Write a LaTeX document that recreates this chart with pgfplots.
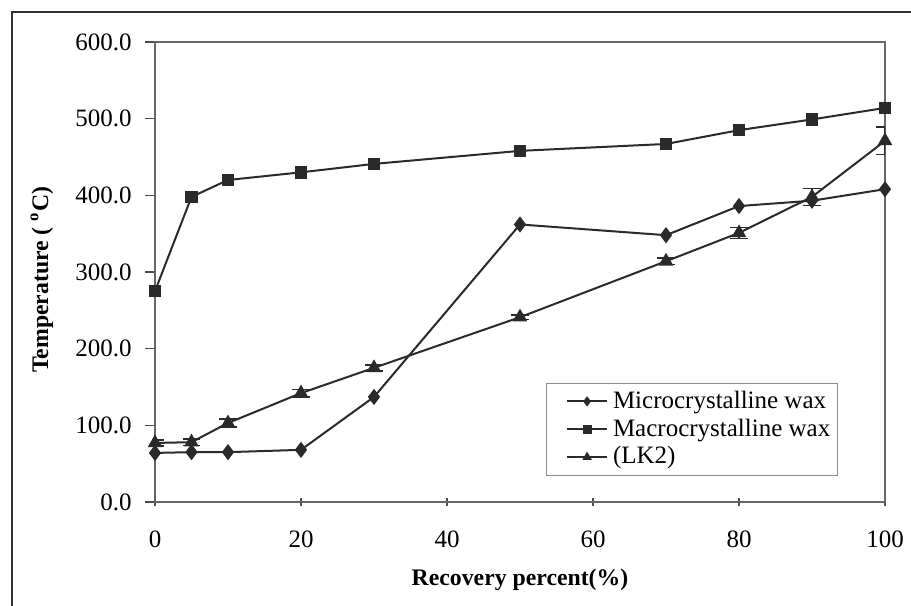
\documentclass[border=0pt]{standalone}
\usepackage{pgfplots}
\pgfplotsset{compat=1.18}
\usepackage{fontspec}
\setmainfont{Liberation Serif}

% Distillation curves: temperature against recovery percent
\pgfplotstableread{
x   y
0   64
5   65
10  65
20  68
30  137
50  362
70  348
80  386
90  393
100 408
}\micro

\pgfplotstableread{
x   y
0   275
5   398
10  420
20  430
30  441
50  458
70  467
80  485
90  499
100 514
}\macro

\pgfplotstableread{
x   y    e
0   77   4
5   78   4
10  103  5
20  142  5
30  175  4
50  241  3
70  314  4
80  351  7
90  398  11
100 471  18
}\lktwo

\definecolor{ink}{HTML}{2A2A2A}

\begin{document}
\begin{tikzpicture}
\useasboundingbox (0pt,0pt) rectangle (364.4pt,242.4pt);
% outer frame
\draw[line width=0.9pt,black!80] (4.8pt,0pt) -- (4.8pt,237.6pt) -- (364.4pt,237.6pt);
\begin{axis}[
  at={(62pt,41.6pt)}, anchor=south west,
  scale only axis, width=292pt, height=184pt,
  xmin=0, xmax=100, ymin=0, ymax=600,
  xtick={0,20,40,60,80,100},
  ytick={0,100,...,600},
  axis line style={black!60, line width=0.5pt},
  tick style={black!70, line width=0.5pt},
  x tick style={/pgfplots/major tick length=3pt},
  y tick style={/pgfplots/major tick length=4pt},
  xtick align=center, ytick align=outside,
  xtick pos=bottom, ytick pos=left,
  /pgf/number format/assume math mode=true,
  yticklabel style={/pgf/number format/.cd, fixed, fixed zerofill, precision=1, /tikz/.cd, font=\fontsize{10}{12}\selectfont, xshift=-1.5pt},
  xticklabel style={font=\fontsize{10}{12}\selectfont, yshift=-6pt},
  xlabel={\textbf{Recovery percent(\%)}},
  ylabel={\textbf{Temperature ( \textsuperscript{o}C)}},
  label style={font=\fontsize{9.5}{11}\selectfont},
  xlabel style={at={(axis description cs:0.5,-0.17)}, anchor=center},
  ylabel style={at={(axis description cs:-0.155,0.483)}, anchor=center},
  legend cell align=left,
  legend style={at={(axis description cs:0.936,0.259)}, anchor=north east,
    draw=black!45, line width=0.4pt, font=\fontsize{10}{11}\selectfont,
    inner xsep=1pt, inner ysep=1pt, row sep=-1.3pt,
    /tikz/every even column/.append style={column sep=1pt}},
  legend image code/.code={\path (-0.24cm,0cm);
    \draw[mark repeat=2,mark phase=2,mark size=1.4pt]
    plot coordinates {(0cm,0cm)(0.28cm,0cm)(0.56cm,0cm)};},
  every axis plot/.append style={ink, line width=0.8pt},
]
\addplot[mark=diamond*, mark size=2.6pt, mark options={solid, fill=ink}] table[x=x,y=y] {\micro};
\addlegendentry{Microcrystalline wax}
\addplot[mark=square*, mark size=2.1pt, mark options={solid, fill=ink}] table[x=x,y=y] {\macro};
\addlegendentry{Macrocrystalline wax}
\addplot[mark=triangle*, mark size=2.6pt, mark options={solid, fill=ink},
  error bars/.cd, y dir=both, y explicit,
  error bar style={ink, line width=0.6pt},
  error mark options={rotate=90, mark size=3.5pt, ink, line width=0.6pt}]
  table[x=x,y=y,y error=e] {\lktwo};
\addlegendentry{(LK2)}
\end{axis}
\end{tikzpicture}
\end{document}
